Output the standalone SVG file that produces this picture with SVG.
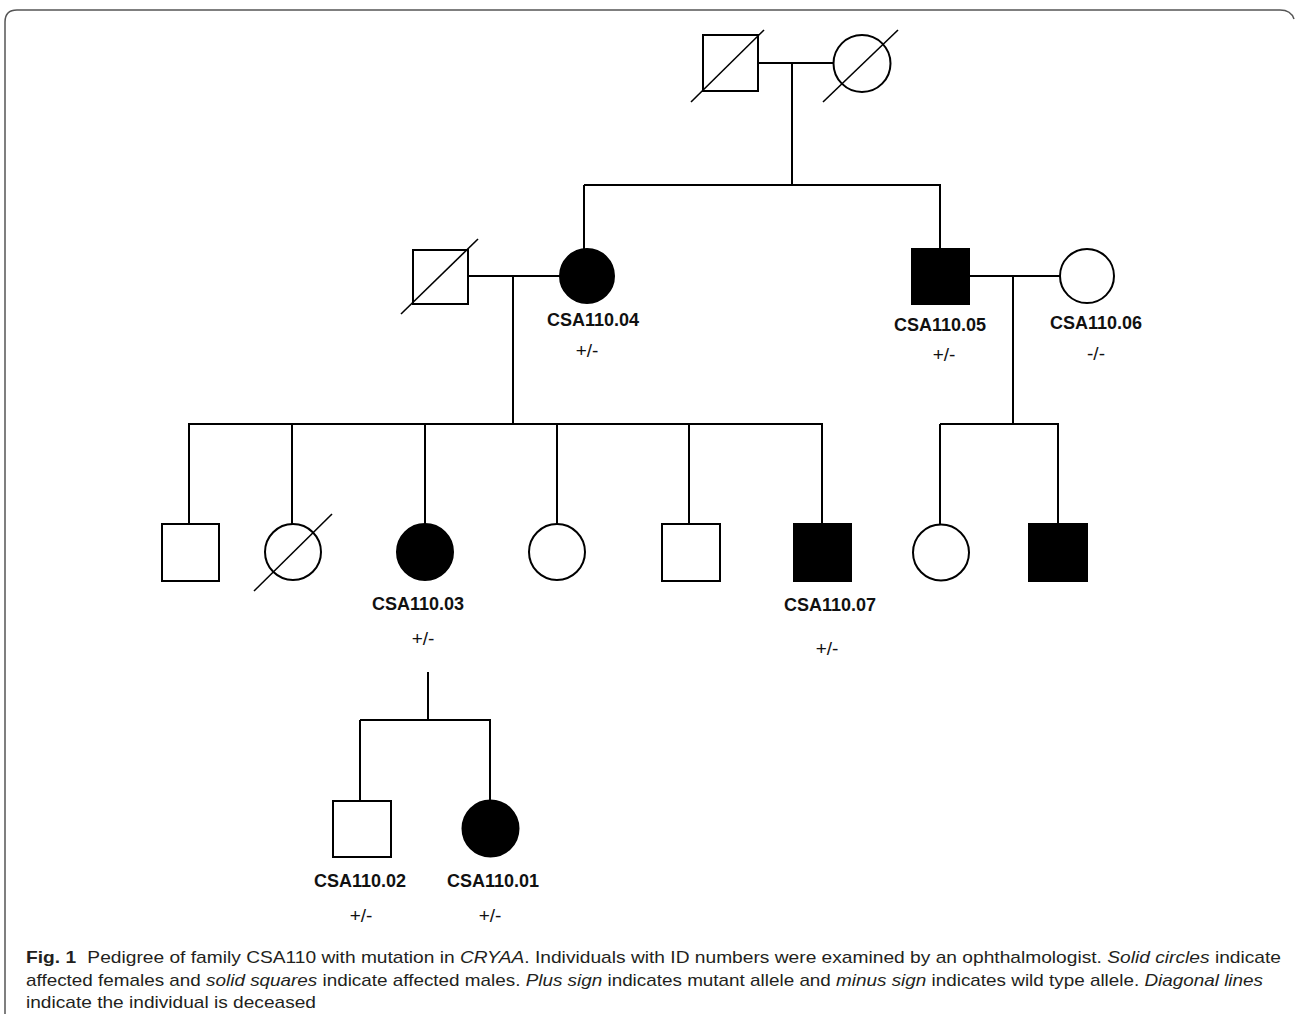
<svg xmlns="http://www.w3.org/2000/svg" width="1295" height="1014" viewBox="0 0 1295 1014">
<style>
.ln{stroke:#000;stroke-width:2;fill:none}
.sh{stroke:#000;stroke-width:2;fill:#fff}
.af{stroke:#000;stroke-width:2;fill:#000}
.dg{stroke:#000;stroke-width:1.6}
.id{font-family:"Liberation Sans",Arial,sans-serif;font-weight:bold;font-size:18px;fill:#111;text-anchor:middle}
.gt{font-family:"Liberation Sans",Arial,sans-serif;font-size:19px;fill:#111;text-anchor:middle}
.cap{font-family:"Liberation Sans",Arial,sans-serif;font-size:17px;fill:#231f20}
.it{font-style:italic}
</style>
<rect width="1295" height="1014" fill="#fff"/>
<path d="M5,1014 V22 Q5,10 17,10 H1280 Q1291,10 1294,19" fill="none" stroke="#555" stroke-width="1.5"/>
<g id="connectors">
<line class="ln" x1="758" y1="63" x2="834" y2="63"/>
<line class="ln" x1="792" y1="63" x2="792" y2="185"/>
<line class="ln" x1="584" y1="185" x2="941" y2="185"/>
<line class="ln" x1="584" y1="185" x2="584" y2="249"/>
<line class="ln" x1="940" y1="185" x2="940" y2="249"/>
<line class="ln" x1="468" y1="276" x2="560" y2="276"/>
<line class="ln" x1="513" y1="276" x2="513" y2="424"/>
<line class="ln" x1="969" y1="276" x2="1060" y2="276"/>
<line class="ln" x1="1013" y1="276" x2="1013" y2="424"/>
<line class="ln" x1="188" y1="424" x2="823" y2="424"/>
<line class="ln" x1="189" y1="424" x2="189" y2="524"/>
<line class="ln" x1="292" y1="424" x2="292" y2="524"/>
<line class="ln" x1="425" y1="424" x2="425" y2="524"/>
<line class="ln" x1="557" y1="424" x2="557" y2="524"/>
<line class="ln" x1="689" y1="424" x2="689" y2="524"/>
<line class="ln" x1="822" y1="424" x2="822" y2="524"/>
<line class="ln" x1="940" y1="424" x2="1059" y2="424"/>
<line class="ln" x1="940" y1="424" x2="940" y2="524"/>
<line class="ln" x1="1058" y1="424" x2="1058" y2="524"/>
<line class="ln" x1="428" y1="672" x2="428" y2="720"/>
<line class="ln" x1="360" y1="720" x2="491" y2="720"/>
<line class="ln" x1="360" y1="720" x2="360" y2="801"/>
<line class="ln" x1="490" y1="720" x2="490" y2="801"/>
</g>
<g id="gf">
<rect class="sh" x="703" y="35" width="55" height="56"/>
<line class="dg" x1="691" y1="102" x2="764" y2="30"/>
</g>
<g id="gm">
<circle class="sh" cx="862" cy="63.5" r="28.5"/>
<line class="dg" x1="823" y1="102" x2="898" y2="30"/>
</g>
<g id="f1">
<rect class="sh" x="413" y="250" width="55" height="54"/>
<line class="dg" x1="401" y1="314" x2="478" y2="239"/>
</g>
<g id="csa110_04">
<circle class="af" cx="587" cy="276" r="27"/>
<text class="id" x="593" y="326">CSA110.04</text>
<text class="gt" x="587" y="357">+/-</text>
</g>
<g id="csa110_05">
<rect class="af" x="912" y="249" width="57" height="55"/>
<text class="id" x="940" y="331">CSA110.05</text>
<text class="gt" x="944" y="361">+/-</text>
</g>
<g id="csa110_06">
<circle class="sh" cx="1087" cy="276" r="27"/>
<text class="id" x="1096" y="329">CSA110.06</text>
<text class="gt" x="1096" y="360">-/-</text>
</g>
<g id="c1">
<rect class="sh" x="162" y="524" width="57" height="57"/>
</g>
<g id="c2">
<circle class="sh" cx="293" cy="552" r="28"/>
<line class="dg" x1="254" y1="591" x2="332" y2="514"/>
</g>
<g id="csa110_03">
<circle class="af" cx="425" cy="552" r="28"/>
<text class="id" x="418" y="610">CSA110.03</text>
<text class="gt" x="423" y="645">+/-</text>
</g>
<g id="c4">
<circle class="sh" cx="557" cy="552" r="28"/>
</g>
<g id="c5">
<rect class="sh" x="662" y="524" width="58" height="57"/>
</g>
<g id="csa110_07">
<rect class="af" x="794" y="524" width="57" height="57"/>
<text class="id" x="830" y="611">CSA110.07</text>
<text class="gt" x="827" y="655">+/-</text>
</g>
<g id="c7">
<circle class="sh" cx="941" cy="552.5" r="28"/>
</g>
<g id="c8">
<rect class="af" x="1029" y="524" width="58" height="57"/>
</g>
<g id="csa110_02">
<rect class="sh" x="333" y="801" width="58" height="56"/>
<text class="id" x="360" y="887">CSA110.02</text>
<text class="gt" x="361" y="922">+/-</text>
</g>
<g id="csa110_01">
<circle class="af" cx="490.5" cy="828.5" r="28"/>
<text class="id" x="493" y="887">CSA110.01</text>
<text class="gt" x="490" y="922">+/-</text>
</g>
<g id="caption">
<text class="cap" x="26" y="963" textLength="1255" lengthAdjust="spacingAndGlyphs"><tspan font-weight="bold">Fig. 1</tspan><tspan dx="10">Pedigree of family CSA110 with mutation in </tspan><tspan class="it">CRYAA</tspan>. Individuals with ID numbers were examined by an ophthalmologist. <tspan class="it">Solid circles</tspan> indicate</text>
<text class="cap" x="26" y="986" textLength="1237" lengthAdjust="spacingAndGlyphs">affected females and <tspan class="it">solid squares</tspan> indicate affected males. <tspan class="it">Plus sign</tspan> indicates mutant allele and <tspan class="it">minus sign</tspan> indicates wild type allele. <tspan class="it">Diagonal lines</tspan></text>
<text class="cap" x="26" y="1008" textLength="290" lengthAdjust="spacingAndGlyphs">indicate the individual is deceased</text>
</g>
</svg>
